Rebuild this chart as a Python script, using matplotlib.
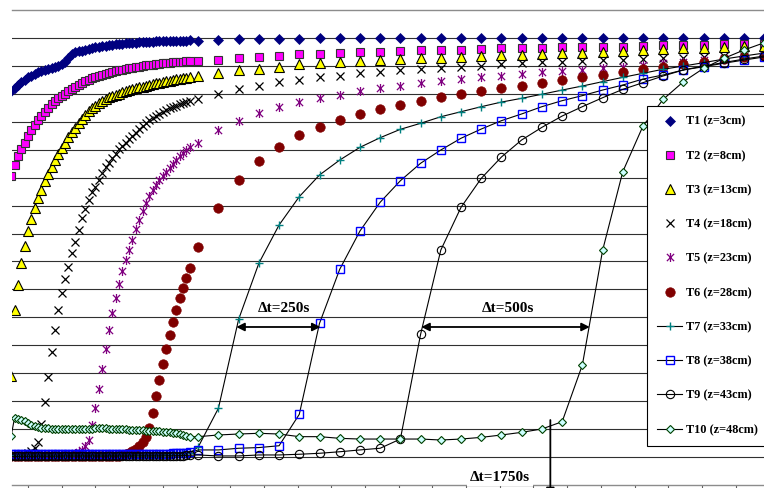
import matplotlib
matplotlib.use("Agg")
import matplotlib.pyplot as plt
from matplotlib.lines import Line2D
from matplotlib.path import Path
import numpy as np

plt.rcParams['font.family'] = ['Liberation Serif', 'DejaVu Serif']

# Sampling times (s): 10 s logging at start, then 60 s logging
t_fast = np.arange(150, 690, 10)
t_slow = np.arange(705, 2386, 60)

# Temperatures (degC) at the ten probe depths
T1_fast = [48.20, 48.42, 48.63, 48.85, 48.99, 49.20, 49.31, 49.41, 49.53, 49.63,
           49.71, 49.78, 49.85, 49.92, 49.99, 50.10, 50.28, 50.56, 50.85, 50.96,
           51.03, 51.10, 51.17, 51.22, 51.28, 51.33, 51.37, 51.41, 51.44, 51.47,
           51.51, 51.54, 51.57, 51.59, 51.61, 51.63, 51.65, 51.67, 51.68, 51.70,
           51.71, 51.72, 51.73, 51.75, 51.75, 51.76, 51.77, 51.77, 51.78, 51.79,
           51.80, 51.80, 51.81, 51.82]
T1_slow = [51.80, 51.83, 51.90, 51.90, 51.95, 51.96, 51.97, 51.97, 51.98, 51.99,
           51.99, 51.99, 51.99, 52.01, 52.01, 52.01, 52.01, 52.02, 52.02, 52.02,
           52.02, 52.02, 52.02, 52.02, 52.02, 52.02, 52.02, 52.02, 52.02]

T2_fast = [42.12, 42.90, 43.55, 44.05, 44.48, 44.98, 45.41, 45.77, 46.13, 46.41,
           46.70, 46.99, 47.27, 47.49, 47.70, 47.84, 47.99, 48.20, 48.35, 48.49,
           48.63, 48.77, 48.92, 48.99, 49.10, 49.20, 49.28, 49.35, 49.41, 49.49,
           49.56, 49.61, 49.67, 49.72, 49.78, 49.82, 49.86, 49.91, 49.95, 49.99,
           50.03, 50.06, 50.09, 50.12, 50.15, 50.18, 50.21, 50.23, 50.25, 50.27,
           50.29, 50.31, 50.34, 50.35]
T2_slow = [50.33, 50.42, 50.54, 50.66, 50.73, 50.83, 50.87, 50.92, 50.97, 51.02,
           51.07, 51.12, 51.14, 51.16, 51.21, 51.26, 51.26, 51.30, 51.33, 51.33,
           51.37, 51.37, 51.42, 51.46, 51.47, 51.53, 51.57, 51.57, 51.59]

T3_fast = [27.80, 32.53, 34.32, 35.89, 37.11, 38.18, 39.04, 39.83, 40.54, 41.12,
           41.76, 42.26, 42.76, 43.26, 43.69, 44.12, 44.48, 44.91, 45.27, 45.55,
           45.91, 46.20, 46.48, 46.77, 46.99, 47.16, 47.34, 47.49, 47.63, 47.74,
           47.84, 47.94, 48.02, 48.11, 48.19, 48.26, 48.33, 48.40, 48.46, 48.52,
           48.59, 48.65, 48.70, 48.76, 48.81, 48.86, 48.90, 48.95, 48.99, 49.03,
           49.06, 49.10, 49.13, 49.17]
T3_slow = [49.28, 49.51, 49.71, 49.78, 49.94, 50.11, 50.19, 50.26, 50.35, 50.42,
           50.49, 50.54, 50.59, 50.66, 50.71, 50.78, 50.78, 50.85, 50.90, 50.94,
           51.02, 51.09, 51.14, 51.19, 51.26, 51.30, 51.37, 51.39, 51.42]

T4_fast = [22.08, 22.08, 22.15, 22.15, 22.22, 22.29, 22.43, 22.65, 23.08, 24.37,
           25.94, 27.73, 29.52, 31.09, 32.53, 33.74, 34.75, 35.60, 36.61, 37.39,
           38.25, 39.11, 39.76, 40.40, 40.97, 41.33, 41.83, 42.33, 42.76, 43.05,
           43.41, 43.69, 44.05, 44.27, 44.48, 44.77, 44.98, 45.20, 45.48, 45.70,
           45.91, 46.13, 46.27, 46.41, 46.59, 46.73, 46.84, 46.95, 47.06, 47.16,
           47.27, 47.34, 47.41, 47.49]
T4_slow = [47.61, 47.97, 48.32, 48.56, 48.83, 48.99, 49.18, 49.30, 49.47, 49.58,
           49.71, 49.78, 49.87, 49.94, 50.01, 50.13, 50.21, 50.26, 50.30, 50.35,
           50.40, 50.44, 50.49, 50.54, 50.59, 50.64, 50.69, 50.73, 50.78]

T5_fast = [22.06, 22.06, 22.07, 22.07, 22.07, 22.08, 22.08, 22.08, 22.08, 22.08,
           22.08, 22.08, 22.08, 22.08, 22.11, 22.15, 22.15, 22.18, 22.22, 22.29,
           22.36, 22.51, 22.79, 23.22, 24.29, 25.51, 26.87, 28.30, 29.73, 31.09,
           32.31, 33.39, 34.39, 35.32, 36.11, 36.82, 37.54, 38.32, 38.97, 39.61,
           40.19, 40.69, 41.12, 41.47, 41.83, 42.12, 42.40, 42.69, 42.98, 43.26,
           43.55, 43.76, 43.98, 44.19]
T5_slow = [44.50, 45.41, 46.08, 46.61, 47.04, 47.39, 47.68, 47.92, 48.22, 48.40,
           48.56, 48.75, 48.92, 49.04, 49.18, 49.31, 49.41, 49.58, 49.66, 49.71,
           49.83, 49.94, 50.06, 50.19, 50.31, 50.42, 50.53, 50.64, 50.71]

T6_fast = [22.05, 22.05, 22.05, 22.06, 22.06, 22.06, 22.06, 22.07, 22.07, 22.07,
           22.07, 22.07, 22.07, 22.07, 22.08, 22.08, 22.08, 22.08, 22.08, 22.08,
           22.08, 22.08, 22.08, 22.08, 22.08, 22.08, 22.08, 22.08, 22.08, 22.08,
           22.08, 22.08, 22.11, 22.15, 22.22, 22.29, 22.43, 22.58, 22.79, 23.08,
           23.44, 24.08, 25.15, 26.37, 27.52, 28.66, 29.73, 30.74, 31.67, 32.53,
           33.39, 34.10, 34.82, 35.53]
T6_slow = [37.06, 39.81, 41.83, 43.21, 44.22, 45.05, 45.65, 46.13, 46.53, 46.89,
           47.20, 47.51, 47.75, 47.97, 48.20, 48.40, 48.58, 48.75, 48.99, 49.18,
           49.35, 49.58, 49.76, 49.94, 50.13, 50.30, 50.47, 50.61, 50.71]

T7_fast = [22.13, 22.13, 22.13, 22.14, 22.14, 22.14, 22.14, 22.14, 22.15, 22.15,
           22.15, 22.15, 22.15, 22.15, 22.15, 22.15, 22.15, 22.15, 22.15, 22.15,
           22.15, 22.15, 22.15, 22.15, 22.15, 22.15, 22.15, 22.15, 22.15, 22.15,
           22.15, 22.15, 22.15, 22.15, 22.15, 22.15, 22.15, 22.16, 22.16, 22.16,
           22.16, 22.16, 22.17, 22.17, 22.17, 22.18, 22.18, 22.19, 22.20, 22.21,
           22.22, 22.24, 22.26, 22.29]
T7_slow = [22.72, 25.49, 31.86, 35.87, 38.61, 40.64, 42.19, 43.26, 44.17, 44.86,
           45.46, 45.89, 46.36, 46.72, 47.08, 47.41, 47.68, 47.97, 48.27, 48.56,
           48.87, 49.18, 49.47, 49.76, 49.99, 50.23, 50.49, 50.71, 50.92]

T8_fast = [22.20, 22.20, 22.20, 22.21, 22.21, 22.21, 22.21, 22.21, 22.22, 22.22,
           22.22, 22.22, 22.22, 22.22, 22.22, 22.22, 22.22, 22.22, 22.22, 22.22,
           22.22, 22.22, 22.22, 22.22, 22.22, 22.22, 22.22, 22.22, 22.22, 22.22,
           22.22, 22.22, 22.22, 22.22, 22.22, 22.22, 22.22, 22.22, 22.23, 22.23,
           22.23, 22.23, 22.23, 22.24, 22.24, 22.24, 22.25, 22.25, 22.26, 22.27,
           22.28, 22.29, 22.31, 22.33]
T8_slow = [22.51, 22.51, 22.63, 22.68, 22.81, 25.06, 31.57, 35.44, 38.18, 40.24,
           41.78, 43.03, 43.98, 44.82, 45.48, 46.08, 46.56, 47.08, 47.51, 47.87,
           48.27, 48.63, 49.06, 49.35, 49.71, 49.94, 50.19, 50.42, 50.64]

T9_fast = [22.05, 22.05, 22.05, 22.06, 22.06, 22.06, 22.06, 22.06, 22.07, 22.07,
           22.07, 22.07, 22.07, 22.07, 22.07, 22.08, 22.08, 22.08, 22.08, 22.08,
           22.08, 22.08, 22.08, 22.08, 22.08, 22.08, 22.08, 22.08, 22.08, 22.08,
           22.08, 22.08, 22.08, 22.08, 22.08, 22.08, 22.08, 22.08, 22.08, 22.08,
           22.08, 22.08, 22.08, 22.08, 22.08, 22.08, 22.09, 22.09, 22.09, 22.10,
           22.10, 22.11, 22.12, 22.13]
T9_slow = [22.15, 22.08, 22.08, 22.15, 22.15, 22.20, 22.27, 22.38, 22.51, 22.63,
           23.29, 30.79, 36.82, 39.88, 41.95, 43.48, 44.70, 45.60, 46.41, 47.08,
           47.72, 48.32, 48.80, 49.28, 49.71, 49.99, 50.24, 50.49, 50.71]

T10_fast = [23.51, 24.80, 24.72, 24.65, 24.58, 24.47, 24.33, 24.22, 24.15, 24.11,
            24.08, 24.06, 24.04, 24.03, 24.01, 24.01, 23.99, 23.99, 23.99, 23.99,
            24.01, 24.02, 24.04, 24.04, 24.04, 24.05, 24.06, 24.06, 24.05, 24.04,
            24.04, 24.02, 24.01, 23.99, 23.98, 23.96, 23.95, 23.94, 23.92, 23.91,
            23.89, 23.88, 23.86, 23.85, 23.84, 23.81, 23.79, 23.76, 23.73, 23.69,
            23.65, 23.58, 23.51, 23.44]
T10_slow = [23.46, 23.58, 23.65, 23.70, 23.65, 23.46, 23.46, 23.34, 23.29, 23.29,
            23.29, 23.29, 23.22, 23.29, 23.41, 23.58, 23.77, 24.01, 24.53, 28.59,
            36.79, 42.43, 45.70, 47.61, 48.87, 49.83, 50.54, 51.14, 51.66]

labels = ['T1 (z=3cm)', 'T2 (z=8cm)', 'T3 (z=13cm)', 'T4 (z=18cm)', 'T5 (z=23cm)',
          'T6 (z=28cm)', 'T7 (z=33cm)', 'T8 (z=38cm)', 'T9 (z=43cm)', 'T10 (z=48cm)']

series = [(T1_fast, T1_slow), (T2_fast, T2_slow), (T3_fast, T3_slow),
          (T4_fast, T4_slow), (T5_fast, T5_slow), (T6_fast, T6_slow),
          (T7_fast, T7_slow), (T8_fast, T8_slow), (T9_fast, T9_slow),
          (T10_fast, T10_slow)]

# asterisk marker: an X crossed by a vertical bar
star_path = Path([(0, -1), (0, 1), (-0.8, -0.8), (0.8, 0.8), (-0.8, 0.8), (0.8, -0.8)],
                 [Path.MOVETO, Path.LINETO, Path.MOVETO, Path.LINETO,
                  Path.MOVETO, Path.LINETO])

styles = [
    dict(marker='D', ms=5.0, mfc='#000080', mec='#000080', mew=0.5, ls='none'),
    dict(marker='s', ms=6.2, mfc='#FF00FF', mec='#333333', mew=0.8, ls='none'),
    dict(marker='^', ms=6.6, mfc='#FFFF00', mec='#000000', mew=0.8, ls='none'),
    dict(marker='x', ms=5.5, mfc='none', mec='#000000', mew=0.9, ls='none'),
    dict(marker=star_path, ms=6.5, mfc='none', mec='#800080', mew=0.9, ls='none'),
    dict(marker='o', ms=6.8, mfc='#800000', mec='#800000', mew=0.5, ls='none'),
    dict(marker='+', ms=6.0, mfc='none', mec='#008080', mew=1.0, ls='-', color='black', lw=0.8),
    dict(marker='s', ms=5.5, mfc='none', mec='#0000FF', mew=1.0, ls='-', color='black', lw=0.8),
    dict(marker='o', ms=6.0, mfc='none', mec='#000000', mew=0.8, ls='-', color='black', lw=0.8),
    dict(marker='D', ms=4.4, mfc='#CCFFFF', mec='#004000', mew=0.8, ls='-', color='black', lw=0.8),
]

W, H = 764, 488
fig = plt.figure(figsize=(W / 100, H / 100), dpi=100)
ax = fig.add_axes([12 / W, 3 / H, 752 / W, 475 / H])

t_all = np.concatenate([t_fast, t_slow])
for (fast, slow), st in zip(series, styles):
    ax.plot(t_all, np.concatenate([fast, slow]), **st)

ax.set_xlim(152.5, 2384)
ax.set_ylim(20, 54)

ax.set_yticks(np.arange(22, 53, 2))
ax.yaxis.grid(True, color='#303030', lw=0.8)
ax.set_axisbelow(True)
ax.tick_params(axis='y', left=False, labelleft=False)
ax.set_xticks(np.arange(200, 2400, 100))
ax.tick_params(axis='x', direction='out', length=4, width=0.8, color='#606060',
               labelbottom=False)
for side in ('left', 'right'):
    ax.spines[side].set_visible(False)
for side in ('top', 'bottom'):
    ax.spines[side].set_color('#8c8c8c')
    ax.spines[side].set_linewidth(1.0)

bold = dict(fontsize=11, fontweight='bold', family='Liberation Serif')
arrow = dict(arrowstyle='<|-|>', color='black', lw=1.3, mutation_scale=12,
             shrinkA=0, shrinkB=0)

# time lag between T7 and T8
ax.annotate('', xy=(818 + 250, 31.31), xytext=(818, 31.31), arrowprops=arrow)
ax.text(882, 32.63, '\u0394t=250s', ha='left', va='center', **bold)

# time lag between T9 and T10
ax.annotate('', xy=(1367 + 500, 31.31), xytext=(1367, 31.31), arrowprops=arrow)
ax.text(1547, 32.63, '\u0394t=500s', ha='left', va='center', **bold)

# arrival of the front at T10
ax.annotate('', xy=(1750, 19.2), xytext=(1750, 24.65), annotation_clip=False,
            arrowprops=dict(arrowstyle='-|>', color='black', lw=1.3,
                            mutation_scale=12, shrinkA=0, shrinkB=0))
ax.text(1512, 20.57, '\u0394t=1750s', ha='left', va='center',
        bbox=dict(facecolor='white', edgecolor='none', pad=2), clip_on=False,
        zorder=5, **bold)

handles = [Line2D([], [], **st) for st in styles]
leg = ax.legend(handles, labels, loc='upper left',
                bbox_to_anchor=(647 / W, (H - 106) / H), bbox_transform=fig.transFigure,
                frameon=True, fancybox=False, framealpha=1, edgecolor='black',
                borderaxespad=0, borderpad=0.8, labelspacing=1.82, handlelength=2.1,
                handletextpad=0.25, prop=dict(family='Liberation Serif', weight='bold',
                                              size=8.8))
leg.get_frame().set_linewidth(0.8)
leg.set_zorder(10)

fig.savefig('out.png', dpi=100)
